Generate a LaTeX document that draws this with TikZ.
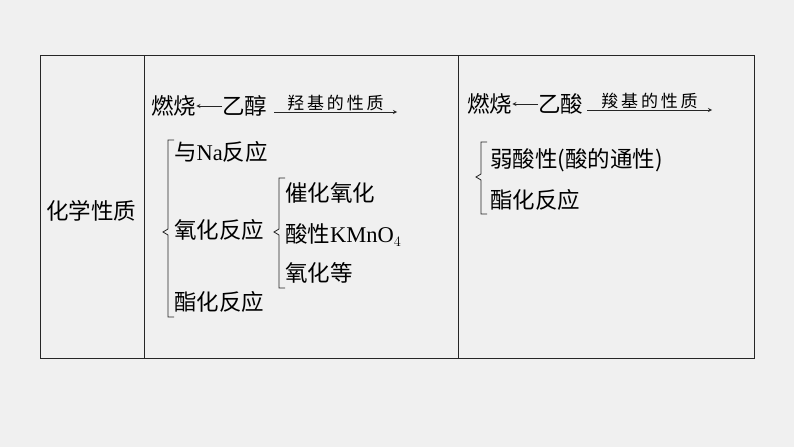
\documentclass[tikz,border=0pt]{standalone}
\usepackage{fontspec}
\setmainfont{Noto Sans CJK SC}
\newfontfamily\lat{Liberation Serif}
\begin{document}
\begin{tikzpicture}[x=1pt,y=-1pt,
  txt/.style={anchor=west,inner sep=0pt,font=\fontsize{22.5}{22.5}\selectfont},
  lbl/.style={anchor=south,inner sep=1pt,font=\fontsize{17}{17}\selectfont},
  ln/.style={line width=0.8pt,draw=black!85}]
\fill[gray!12] (0,0) rectangle (794,447);
\useasboundingbox (0,0) rectangle (794,447);
\draw[ln] (40,55) rectangle (754,358);
\draw[ln] (144,55) -- (144,358);
\draw[ln] (458,55) -- (458,358);
\node[txt] (hx) at (46,211) {化学性质};
% left column
\node[txt] (rs1) at (151,106) {燃烧};
\node[txt] (yc) at (222,106) {乙醇};
\draw[ln,-stealth] (yc.west) -- (rs1.east);
\coordinate (a1) at (274,112);
\coordinate (a2) at (397,112);
\draw[ln,-stealth] (a1) -- (a2) node[lbl,midway,above] (l1) {羟\,基\,的\,性\,质};
\draw[ln] (174,140) -- (168,140) -- (168,229) -- (163,232) -- (168,235) -- (168,317) -- (174,317);
\node[txt] (na) at (174,152) {与{\lat Na}反应};
\node[txt] (yh) at (174,230) {氧化反应};
\node[txt] (zh) at (174,302) {酯化反应};
\draw[ln] (285,178) -- (279,178) -- (279,229) -- (274,232) -- (279,235) -- (279,288) -- (285,288);
\node[txt] (ch) at (285,193) {催化氧化};
\node[txt] (km) at (285,235) {酸性{\lat KMnO$_4$}};
\node[txt] (yd) at (285,273) {氧化等};
% right column
\node[txt] (rs2) at (467,104) {燃烧};
\node[txt] (ys) at (538,104) {乙酸};
\draw[ln,-stealth] (ys.west) -- (rs2.east);
\coordinate (b1) at (587,110);
\coordinate (b2) at (712,110);
\draw[ln,-stealth] (b1) -- (b2) node[lbl,midway,above] (l2) {羧\,基\,的\,性\,质};
\draw[ln] (487,142) -- (481,142) -- (481,174) -- (476,177) -- (481,180) -- (481,214) -- (487,214);
\node[txt] (rsx) at (490,160) {弱酸性(酸的通性)};
\node[txt] (zh2) at (490,200) {酯化反应};
\end{tikzpicture}
\end{document}
